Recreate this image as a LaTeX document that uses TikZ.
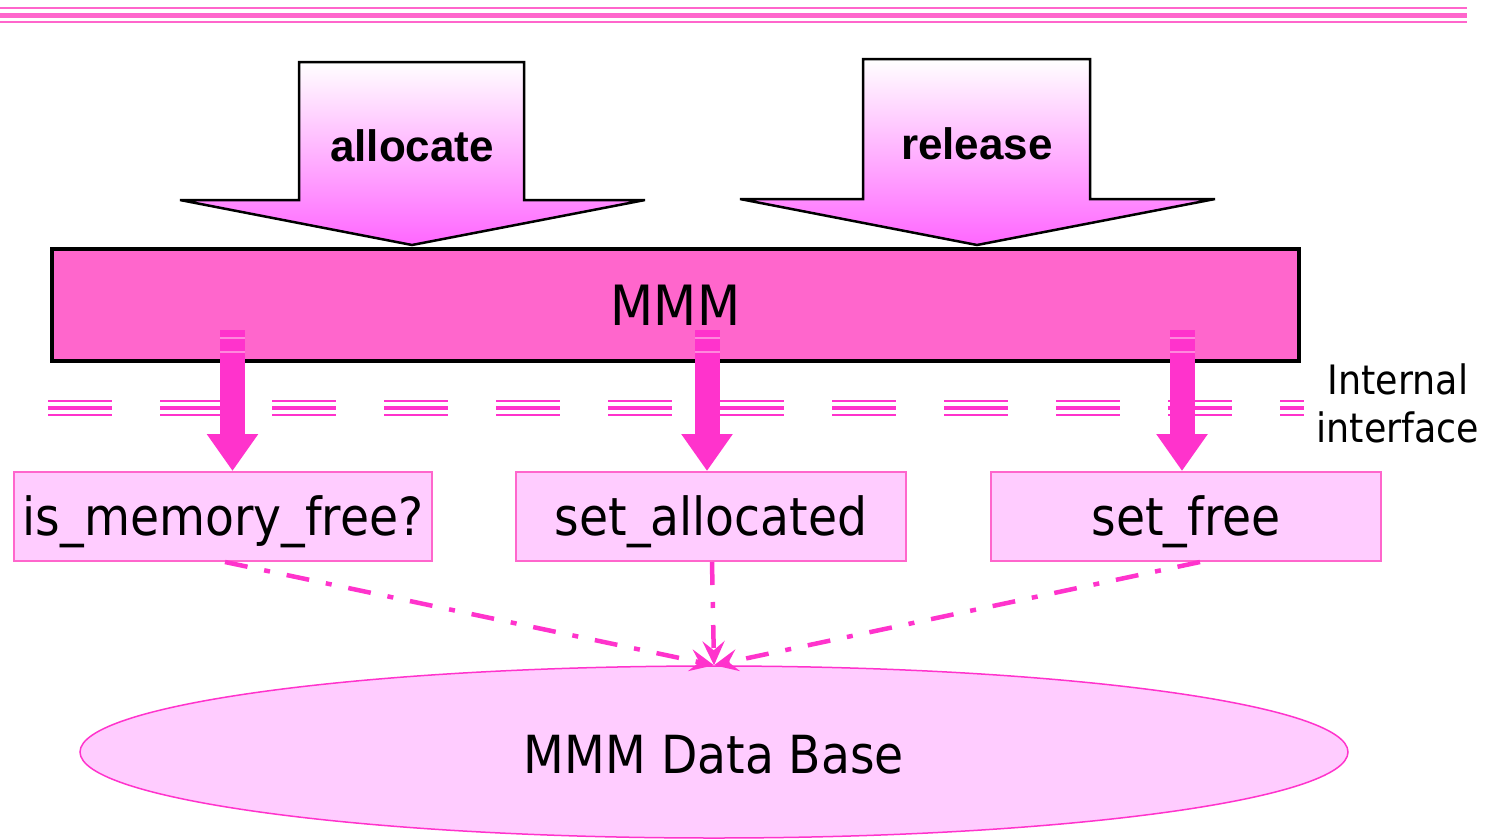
\documentclass[tikz,border=0pt]{standalone}
\usepackage{fontspec}
\setmainfont{DejaVu Sans Condensed}
\newfontfamily\arialfont{Liberation Sans}
\usetikzlibrary{arrows.meta,shapes.geometric}
\definecolor{pinkA}{HTML}{FF66CC}
\definecolor{pinkB}{HTML}{FF33CC}
\definecolor{pinkL}{HTML}{FFCCFF}
\definecolor{magL}{HTML}{FF66FF}
\definecolor{stripe}{HTML}{FF88DD}
\tikzset{
  bigtxt/.style={font=\fontsize{52.5}{60}\selectfont},
  funcbox/.style={draw=pinkA, line width=2pt, fill=pinkL, inner sep=0pt, bigtxt, text height=37pt, text depth=0pt},
  inarrow/.style={draw=black, line width=2.5pt, line join=miter},
  inshade/.style={top color=white, bottom color=magL},
  boldlbl/.style={font=\arialfont\bfseries\fontsize{44}{52}\selectfont},
  thickarrow/.style={draw=pinkB, line width=25pt, -{Triangle[length=37pt,width=49pt]}},
  ddarrow/.style={draw=pinkB, line width=4.5pt, dash pattern=on 23pt off 17pt on 6pt off 17pt, -{Stealth[length=24pt,width=22pt,inset=9pt]}},
  ifline/.style={draw=pinkB, dash pattern=on 64pt off 48pt},
  topline/.style={draw=pinkA}
}
\begin{document}
\begin{tikzpicture}[x=1pt,y=-1pt]
\useasboundingbox (0,0) rectangle (1488,838);
% top rules
\draw[topline, line width=2pt] (0,7.5) -- (1467,7.5);
\draw[topline, line width=5pt] (0,15) -- (1467,15);
\draw[topline, line width=2.5pt] (0,22) -- (1467,22);

% input arrows
\shade[inshade] (299,62) -- (524,62) -- (524,200) -- (645,200) -- (412,245) -- (180,200) -- (299,200) -- cycle;
\draw[inarrow] (299,62) -- (524,62) -- (524,200) -- (645,200) -- (412,245) -- (180,200) -- (299,200) -- cycle;
\node[boldlbl] (alloc) at (412,146) {allocate};
\shade[inshade] (863,59) -- (1090,59) -- (1090,199) -- (1215,199) -- (977,245) -- (740,199) -- (863,199) -- cycle;
\draw[inarrow] (863,59) -- (1090,59) -- (1090,199) -- (1215,199) -- (977,245) -- (740,199) -- (863,199) -- cycle;
\node[boldlbl] (rel) at (977,144) {release};

% MMM box
\node[draw=black, line width=4pt, fill=pinkA, minimum width=1247pt, minimum height=112pt, inner sep=0pt, font=\fontsize{55.5}{64}\selectfont] (mmm) at (675.5,305) {MMM};

% internal interface line
\draw[ifline, line width=2pt] (48,401) -- (1304,401);
\draw[ifline, line width=4pt] (48,408) -- (1304,408);
\draw[ifline, line width=2pt] (48,415) -- (1304,415);
\node[font=\fontsize{40.5}{48}\selectfont, align=center] (iflbl) at (1398,403) {Internal\\interface};

% function boxes
\node[funcbox, minimum width=418pt, minimum height=89pt] (isfree) at (223,516.5) {is\_memory\_free?};
\node[funcbox, minimum width=390pt, minimum height=89pt] (setalloc) at (711,516.5) {set\_allocated};
\node[funcbox, minimum width=390pt, minimum height=89pt] (setfree) at (1186,516.5) {set\_free};

% thick arrows
\coordinate (a1) at (232.5,330);
\coordinate (a2) at (707,330);
\coordinate (a3) at (1182,330);
\foreach \c/\b in {a1/isfree, a2/setalloc, a3/setfree}{
  \draw[thickarrow] (\c) -- (\c |- \b.north);
  \draw[stripe, line width=1.5pt] ([xshift=-12.5pt,yshift=-8pt]\c) -- ([xshift=12.5pt,yshift=-8pt]\c);
  \draw[stripe, line width=1.5pt] ([xshift=-12.5pt,yshift=-22pt]\c) -- ([xshift=12.5pt,yshift=-22pt]\c);
}

% data base
\node[ellipse, draw=pinkB, line width=1.5pt, fill=pinkL, minimum width=1268pt, minimum height=172pt, inner sep=0pt, bigtxt, text height=42pt, text depth=0pt] (db) at (714,752) {MMM Data Base};

% dash-dot connectors
\draw[ddarrow] ([xshift=2pt]isfree.south) -- (db.north);
\draw[ddarrow] ([xshift=1pt]setalloc.south) -- (db.north);
\draw[ddarrow] ([xshift=14pt]setfree.south) -- (db.north);
\end{tikzpicture}
\end{document}
